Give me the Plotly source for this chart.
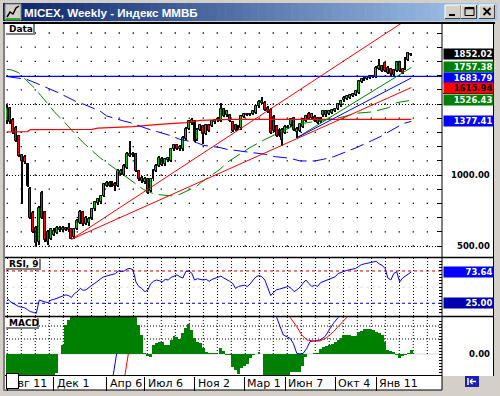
import plotly.graph_objects as go

# ---------------- data ----------------
opens = [1380,1474,1390,1334,1275,1139,1130,1075,904,735,
         630,525,870,740,600,547,580,595,630,612,
         625,630,620,560,618,665,740,655,660,688,
         758,800,810,853,925,945,925,940,923,1010,
         998,1052,1135,1140,1146,1028,981,950,970,888,
         970,1030,1064,1115,1075,1105,1100,1180,1210,1180,
         1180,1255,1326,1365,1380,1250,1320,1345,1290,1350,
         1345,1370,1385,1380,1462,1420,1420,1370,1350,1345,
         1330,1410,1425,1430,1430,1440,1486,1510,1510,1475,
         1460,1410,1345,1275,1320,1298,1333,1350,1400,1300,
         1310,1340,1380,1428,1404,1410,1400,1375,1420,1450,
         1430,1440,1452,1462,1490,1525,1533,1545,1556,1562,
         1580,1657,1670,1678,1685,1690,1693,1750,1768,1786,
         1755,1745,1740,1732,1796,1745,1745,1810,1845]
closes = [1470,1373,1300,1240,1134,1099,1092,923,700,599,
          520,770,700,540,530,618,605,630,610,628,
          615,610,550,622,676,740,654,700,690,758,
          810,830,853,935,942,925,945,920,1028,1030,
          1064,1146,1150,1150,1028,970,958,970,876,970,
          1033,1064,1122,1070,1110,1120,1180,1210,1185,1200,
          1263,1326,1380,1385,1240,1320,1350,1287,1350,1310,
          1380,1385,1395,1462,1416,1450,1380,1310,1320,1325,
          1416,1430,1430,1425,1450,1486,1515,1520,1460,1450,
          1298,1310,1275,1320,1250,1340,1340,1392,1320,1325,
          1357,1392,1416,1392,1428,1380,1369,1404,1450,1420,
          1450,1458,1467,1498,1521,1545,1556,1562,1568,1592,
          1662,1674,1685,1693,1697,1697,1756,1768,1733,1733,
          1721,1710,1702,1796,1733,1721,1820,1857,1852.02]
highs = [1490,1480,1400,1345,1285,1150,1140,1085,915,745,
         640,780,885,750,610,625,630,640,640,640,
         635,665,630,630,690,755,750,710,705,770,
         820,840,860,945,955,955,960,950,1040,1045,
         1075,1160,1240,1165,1155,1035,990,985,980,980,
         1045,1075,1135,1125,1120,1130,1190,1220,1220,1210,
         1275,1335,1390,1400,1390,1330,1360,1355,1360,1360,
         1390,1395,1405,1510,1470,1460,1430,1380,1360,1355,
         1425,1440,1440,1440,1460,1495,1525,1552,1520,1485,
         1470,1420,1355,1330,1330,1350,1350,1400,1410,1335,
         1365,1400,1425,1445,1438,1420,1410,1412,1458,1458,
         1458,1466,1475,1506,1530,1553,1565,1570,1576,1600,
         1670,1682,1693,1700,1705,1705,1765,1815,1778,1795,
         1765,1752,1748,1805,1805,1752,1828,1865,1862]
lows = [1360,1360,1290,1230,1125,794,1080,915,690,590,
        500,505,690,530,505,540,570,585,600,600,
        605,600,547,550,610,655,640,645,640,680,
        750,790,795,845,915,915,915,888,915,1000,
        990,1045,1125,1130,1020,960,945,940,864,880,
        960,1020,1055,1060,1065,1095,1090,1170,1175,1170,
        1170,1245,1315,1355,1230,1240,1310,1216,1280,1300,
        1335,1360,1375,1370,1405,1410,1370,1300,1310,1315,
        1320,1400,1415,1415,1420,1430,1475,1500,1450,1440,
        1290,1300,1265,1265,1205,1290,1325,1340,1310,1263,
        1300,1330,1370,1385,1395,1370,1360,1365,1410,1412,
        1422,1432,1445,1455,1482,1515,1525,1537,1548,1555,
        1572,1648,1662,1670,1677,1682,1685,1742,1725,1725,
        1712,1700,1690,1725,1725,1710,1738,1802,1838]
weeks = list(range(len(closes)))

tick_idx = [0, 16, 34, 47, 64, 81, 95, 112, 126]
tick_text = ["Авг 11", "Дек 1", "Апр 6", "Июл 6", "Ноя 2", "Мар 1", "Июн 7", "Окт 4", "Янв 11"]

# long moving averages
green_ma_x = [0, 1.6, 3.9, 9.6, 11.5, 16.4, 18.7, 23.8, 26, 31.7, 34, 38, 42.5, 46.5, 50.5, 56.2, 59,
              64.7, 66.4, 72.7, 75, 80.7, 82.9, 88.1, 96, 98.9, 113.6, 119.3, 124.5, 130.2, 133, 138]
green_ma_y = [1744, 1740, 1721, 1608, 1561, 1439, 1392, 1275, 1228, 1122, 1087, 1028, 958, 899, 864, 853, 864,
              920, 950, 1040, 1087, 1162, 1193, 1251, 1327, 1357, 1404, 1435, 1444, 1474, 1510, 1526.43]
blue_ma_x = [0, 6.7, 9.6, 15.2, 17.5, 23.8, 26, 31.7, 34, 39.7, 42, 47.7, 50.5, 56.2, 59, 64.7, 67, 72.7, 75,
             81.2, 82.9, 88.1, 91.5, 96.6, 100, 105.1, 108, 111.4, 119.3, 127.3, 135.3, 138]
blue_ma_y = [1693, 1674, 1650, 1604, 1580, 1515, 1500, 1451, 1416, 1381, 1369, 1327, 1310, 1275, 1251, 1228,
             1209, 1193, 1181, 1162, 1158, 1146, 1129, 1118, 1099, 1099, 1111, 1128, 1193, 1269, 1363, 1377.41]
red_ma_x = [0, 7, 8, 29, 31, 43, 52, 61, 66, 76, 138]
red_ma_y = [1303, 1306, 1320, 1322, 1330, 1341, 1357, 1369, 1385, 1392, 1392]

# trend lines (start/end points)
red_a_x, red_a_y = [22, 138], [547, 2115]
red_b_x, red_b_y = [22, 138], [547, 1615.94]
green_t_x, green_t_y = [99, 138], [1263, 1757.38]
blue_t_x, blue_t_y = [99, 138], [1263, 1683.79]
blue_level = 1695

rsi = [33,28,25,22,20,19,18,15,12,11,
       9.5,30,28,27,26,30,31,33,34,36,
       38,37,34,40,43,48,45,46,50,53,
       56,60,63,66,67,68,70,71,75,74,
       75,78,79,77,58,51,48,43,45,55,
       59,61,60,58,62,61,65,67,69,66,
       64,74,75,72,61,63,62,61,62,59,
       62,64,66,67,64,62,59,56,48,51,
       52,53,51,55,61,66,68,66,61,50,
       37,42,46,47,48,50,51,48,43,46,
       50,56,61,56,51,53,51,57,59,61,
       62,64,66,71,73,75,76,77,78,79,
       82,85,86,87,88,89,90,86,84,79,
       64,61,71,74,58,64,67,71,73.64]
rsi_upper, rsi_lower = 75, 25

macd_hist = [-30,-30,-30,-30,-30,-30,-30,-30,-30,-30,
             -30,-30,-30,-30,-30,-30,-30,-19,0,9,
             29,34,45,45,45,45,45,45,45,45,
             45,45,45,45,45,45,45,45,45,45,
             45,45,45,45,45,29,19,1,-2,-3,
             9,11,12,12,9,9,14,18,17,15,
             21,26,30,24,16,12,11,6,2,1,
             1,1,0,6,3,-1,-1,-13,-16,-20,
             -14,-12,-10,-4,-1,0,2,0,-21,-30,
             -30,-30,-30,-30,-30,-30,-30,-18,-18,-18,
             -18,-12,-3,0,0,1,1,5,7,8,
             9,10,12,14,16,19,19,19,18,18,
             22,23,25,25,25,24,22,21,19,12,
             4,3,2,-1,-4,-2,-1,1,4]
macd_x = [35.2, 37.4, None, 91.5, 92, 94.3, 96.6, 97.7, 98.9, 100, 101.1, 102.3, 103.4, 104.6, 106.8,
          108.5, 110.2, 111.4, 113.1, 113.6]
macd_y = [-40, 0, None, 45, 36.7, 19, 15.7, 10.7, 0.7, 0, 0.7, 5.7, 12.3, 13, 14,
          17.3, 25.7, 30.7, 36.7, 40]
signal_x = [39.2, 41.4, None, 96, 96.6, 98.9, 100.6, 102.3, 104.6, 106.8, 109.1, 111.4, 113.7, 116, 116.5]
signal_y = [-40, 0, None, 40, 36.7, 27.3, 19, 14, 13, 13, 16.3, 22.3, 29, 36.7, 40]

# ---------------- layout helpers ----------------
W, H = 500, 396
def X(px): return px / W
def Y(py): return 1 - py / H

XR = [-0.34, 148.46]
XD = [X(6), X(442)]

fig = go.Figure()

# candles drawn as bars: wick bars first, bodies on top (overlay mode)
fig.add_trace(go.Bar(x=weeks, base=lows, y=[h - l for h, l in zip(highs, lows)], width=0.34,
                     marker=dict(color='black', line=dict(width=0)), xaxis='x', yaxis='y', hoverinfo='skip'))
body_col = ['#00CC00' if c >= o else '#FF0000' for o, c in zip(opens, closes)]
fig.add_trace(go.Bar(x=weeks, base=opens, y=[c - o for o, c in zip(opens, closes)], width=0.66,
                     marker=dict(color=body_col, line=dict(color='black', width=1)),
                     xaxis='x', yaxis='y', hoverinfo='skip'))

# price grid dots
gx, gy = [], []
for k in range(31):
    for v in range(500, 2001, 100):
        gx.append(0.1 + 4.778 * k)
        gy.append(v)
fig.add_trace(go.Scatter(x=gx, y=gy, mode='markers', marker=dict(symbol='square', size=1.3, color='black'),
                         xaxis='x', yaxis='y', hoverinfo='skip'))

def line(x, y, color, dash='solid', width=1, xa='x', ya='y'):
    fig.add_trace(go.Scatter(x=x, y=y, mode='lines', line=dict(color=color, width=width, dash=dash),
                             xaxis=xa, yaxis=ya, hoverinfo='skip', connectgaps=False))

line(red_ma_x, red_ma_y, '#FF0000', width=1.3)
line(green_ma_x, green_ma_y, '#008000', dash='14px,6px')
line(blue_ma_x, blue_ma_y, '#0000FF', dash='14px,6px')
line([XR[0], XR[1]], [blue_level, blue_level], '#0000FF', width=1.3)
line(red_a_x, red_a_y, '#FF0000')
line(red_b_x, red_b_y, '#FF0000')
line(green_t_x, green_t_y, '#008000')
line(blue_t_x, blue_t_y, '#0000FF')

# RSI
line(weeks, rsi, '#0000FF', xa='x2', ya='y2')

# MACD
fig.add_trace(go.Bar(x=weeks, y=macd_hist, width=1.0, marker=dict(color='#008000', line=dict(width=0)),
                     xaxis='x3', yaxis='y3', hoverinfo='skip'))
line(macd_x, macd_y, '#0000FF', xa='x3', ya='y3')
line(signal_x, signal_y, '#FF0000', xa='x3', ya='y3')

shapes = []
def rect(x0, y0, x1, y1, fill, lc=None, lw=0, layer='below'):
    shapes.append(dict(type='rect', xref='paper', yref='paper', x0=X(x0), x1=X(x1), y0=Y(y1), y1=Y(y0),
                       fillcolor=fill, line=dict(color=lc or fill, width=lw), layer=layer))
def seg(x0, y0, x1, y1, color, w=1, layer='above', dash='solid'):
    shapes.append(dict(type='line', xref='paper', yref='paper', x0=X(x0), x1=X(x1), y0=Y(y0), y1=Y(y1),
                       line=dict(color=color, width=w, dash=dash), layer=layer))

# title bar gradient
n = 60
c0, c1 = (10, 36, 106), (166, 202, 240)
for i in range(n):
    t = i / (n - 1)
    col = 'rgb(%d,%d,%d)' % tuple(int(c0[j] + (c1[j] - c0[j]) * t) for j in range(3))
    xa = 3 + (497 - 3) * i / n
    xb = 3 + (497 - 3) * (i + 1) / n + 0.5
    rect(xa, 3, xb, 21, col)
# icon
rect(5, 4, 21, 20, '#D4D0C8', '#808080', 1)
shapes.append(dict(type='path', xref='paper', yref='paper',
                   path='M %f %f L %f %f L %f %f L %f %f L %f %f' % (X(7), Y(17), X(10), Y(12), X(13), Y(14),
                                                                   X(16), Y(8), X(19), Y(6)),
                   line=dict(color='black', width=1.5), layer='above'))
seg(6, 19, 20, 19, '#00A000', 1.5)
# buttons
for bx in (445, 461, 479):
    rect(bx, 5, bx + 16, 19, '#D4D0C8')
    seg(bx, 5, bx + 16, 5, 'white', 1)
    seg(bx, 5, bx, 19, 'white', 1)
    seg(bx, 18.5, bx + 16, 18.5, '#404040', 1)
    seg(bx + 15.5, 5, bx + 15.5, 19, '#404040', 1)
rect(449, 14, 455, 16, 'black', layer='above')
rect(465, 7.5, 474, 15.5, 'rgba(0,0,0,0)', 'black', 1, layer='above')
seg(465, 8.5, 474, 8.5, 'black', 1.5)
seg(483.5, 8, 490.5, 15, 'black', 1.8)
seg(490.5, 8, 483.5, 15, 'black', 1.8)

# content area
rect(5, 22, 494, 390, 'white')
rect(442, 376, 494, 390, '#D4D0C8')
rect(3, 22, 5, 391, '#808080')
rect(3, 22, 495, 24, 'black', layer='above')
seg(493.5, 22, 493.5, 376, 'black', 1)
seg(442, 23, 442, 390, 'black', 1)
seg(5, 257.5, 494, 257.5, 'black', 1.5)
seg(5, 316.5, 494, 316.5, 'black', 1.5)
seg(5, 375.5, 442, 375.5, 'black', 1)
seg(5, 390, 442, 390, 'black', 1)
seg(6, 354, 442, 354, '#D8D8D8', 1, layer='below')
seg(443, 93.5, 493, 93.5, 'black', 1)

# RSI levels
shapes.append(dict(type='line', xref='x2 domain', yref='y2', x0=0, x1=1, y0=rsi_upper, y1=rsi_upper,
                   line=dict(color='#C00000', width=1, dash='3px,3px'), layer='below'))
shapes.append(dict(type='line', xref='x2 domain', yref='y2', x0=0, x1=1, y0=rsi_lower, y1=rsi_lower,
                   line=dict(color='#0000C0', width=1, dash='3px,3px'), layer='below'))
shapes.append(dict(type='line', xref='x2 domain', yref='y2', x0=0, x1=1, y0=50, y1=50,
                   line=dict(color='#E0E0E0', width=1, dash='3px,3px'), layer='below'))
# MACD dotted
for lv in (15, 28):
    shapes.append(dict(type='line', xref='x3 domain', yref='y3', x0=0, x1=1, y0=lv, y1=lv,
                       line=dict(color='black', width=1, dash='1px,2px'), layer='below'))
for k in range(31):
    xv = 0.1 + 4.778 * k
    shapes.append(dict(type='line', xref='x3', yref='y3', x0=xv, x1=xv, y0=0, y1=37,
                       line=dict(color='black', width=1, dash='1px,2px'), layer='below'))

# panel label buttons
for (x0, y0, x1, y1) in ((6, 24, 35, 35), (6, 259, 41, 270), (6, 318, 39, 329)):
    rect(x0, y0, x1, y1, '#808080', layer='above')
    rect(x0, y0, x1 - 2, y1 - 2, 'white', layer='above')

annotations = []
def txt(x, y, s, size=9, color='black', xanchor='left', weight='bold', family='DejaVu Sans', **kw):
    d = dict(xref='paper', yref='paper', x=X(x), y=Y(y), text=s, showarrow=False, xanchor=xanchor,
             yanchor='middle', font=dict(family=family, size=size, color=color, weight=weight))
    d.update(kw)
    annotations.append(d)

txt(22, 12.5, 'MICEX, Weekly - Индекс ММВБ', size=11.6, color='white', family='Liberation Sans')
txt(7, 29, 'Data')
txt(7, 264, 'RSI, 9')
txt(7, 323, 'MACD')

# right axis labels
for v in (500, 1000):
    annotations.append(dict(xref='paper', yref='y', x=X(492), y=v, text='%.2f' % v, showarrow=False,
                            xanchor='right', yanchor='middle',
                            font=dict(family='DejaVu Sans', size=8.5, color='black', weight='bold')))
annotations.append(dict(xref='paper', yref='y3', x=X(492), y=0, text='0.00', showarrow=False,
                        xanchor='right', yanchor='middle',
                        font=dict(family='DejaVu Sans', size=8.5, color='black', weight='bold')))

def box(yref, v, label, bg, fc='white'):
    annotations.append(dict(xref='paper', yref=yref, x=X(443), y=v, text=label, showarrow=False,
                            xanchor='left', yanchor='middle', width=48, height=9, align='right',
                            bgcolor=bg, borderpad=0.5,
                            font=dict(family='DejaVu Sans', size=8.5, color=fc, weight='bold')))

box('y', closes[-1], '%.2f' % closes[-1], 'black')
box('y', green_t_y[-1], '%.2f' % green_t_y[-1], '#008000')
box('y', blue_t_y[-1], '%.2f' % blue_t_y[-1], '#0000FF')
box('y', red_b_y[-1], '%.2f' % red_b_y[-1], '#FF0000', 'black')
box('y', green_ma_y[-1], '%.2f' % green_ma_y[-1], '#008000')
box('y', blue_ma_y[-1], '%.2f' % blue_ma_y[-1], '#0000FF')
box('y2', rsi[-1], '%.2f' % rsi[-1], '#0000FF')
box('y2', rsi_lower, '%.2f' % rsi_lower, '#0000B0')

# x labels
for i, t in zip(tick_idx, tick_text):
    annotations.append(dict(xref='x3', yref='paper', x=i, y=Y(383.5), text=t, showarrow=False,
                            xanchor='left', yanchor='middle', xshift=1,
                            font=dict(family='DejaVu Sans', size=11, color='black')))
# little white box at bottom-left
annotations.append(dict(xref='paper', yref='paper', x=X(6), y=Y(373), text=' ', showarrow=False,
                        xanchor='left', yanchor='top', width=11, height=14, bgcolor='white',
                        bordercolor='black', borderwidth=1, borderpad=0))
# bottom-right icon
rect(465, 376, 479, 387, '#2020B0', layer='above')
seg(468, 378, 468, 385, 'white', 1.5)
seg(470, 381.5, 476, 381.5, 'white', 1.5)
seg(470, 381.5, 472.5, 379, 'white', 1.2)
seg(470, 381.5, 472.5, 384, 'white', 1.2)

fig.update_layout(
    width=W, height=H, margin=dict(l=0, r=0, t=0, b=0),
    paper_bgcolor='#D4D0C8', plot_bgcolor='rgba(0,0,0,0)',
    showlegend=False, hovermode=False, bargap=0, barmode='overlay',
    shapes=shapes, annotations=annotations,
    xaxis=dict(domain=XD, range=XR, anchor='y', showgrid=False, zeroline=False, showticklabels=False,
               ticks='', fixedrange=True),
    yaxis=dict(domain=[Y(257), Y(24)], range=[422.5, 2063.4], anchor='x', side='right',
               tickvals=[500, 1000, 1500], ticks='inside', ticklen=5, tickcolor='black',
               showticklabels=False, showgrid=True, gridcolor='black', griddash='1px,2px', gridwidth=1,
               zeroline=False, minor=dict(dtick=100, tick0=0, ticks='inside', ticklen=5, tickcolor='black',
                                          showgrid=False)),
    xaxis2=dict(domain=XD, range=XR, anchor='y2', showticklabels=False, ticks='', zeroline=False,
                tickmode='linear', tick0=0.1, dtick=4.778, showgrid=True, gridcolor='black',
                griddash='1px,2px', gridwidth=1),
    yaxis2=dict(domain=[Y(316), Y(258)], range=[5.3, 95.1], anchor='x2', side='right', ticks='inside',
                ticklen=3, tickcolor='black', dtick=5, showticklabels=False, showgrid=False, zeroline=False),
    xaxis3=dict(domain=XD, range=XR, anchor='y3', tickvals=tick_idx, ticks='outside', ticklen=14,
                tickcolor='black', showticklabels=False, showgrid=False, zeroline=False),
    yaxis3=dict(domain=[Y(376), Y(317)], range=[-22, 37], anchor='x3', side='right', ticks='inside',
                ticklen=3, tickcolor='black', dtick=3, showticklabels=False, showgrid=False, zeroline=False),
)

fig.write_html("out.html", config={'displayModeBar': False},
               post_script="document.body.style.margin='0';document.body.style.overflow='hidden';")
